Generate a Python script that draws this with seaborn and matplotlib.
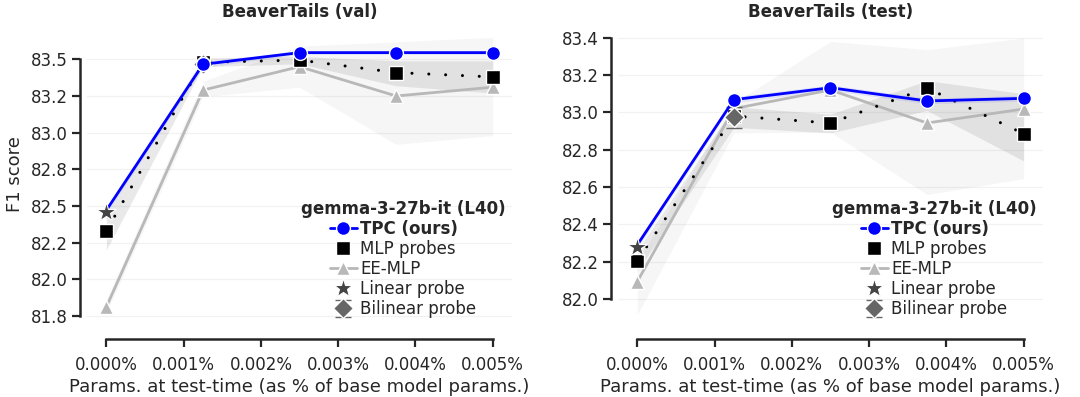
# --- 1. Bibliotecas ---
import pandas as pd
import seaborn as sns
import matplotlib.pyplot as plt
from matplotlib.lines import Line2D
from matplotlib.ticker import FormatStrFormatter, FuncFormatter

# --- 2. Dados ---
# eixo x: parâmetros no teste (% dos parâmetros do modelo base)
params_pct = [0.0, 0.00125, 0.0025, 0.00375, 0.005]

# BeaverTails (val)
tpc_val = [82.47, 83.466, 83.546, 83.546, 83.546]
tpc_val_lo = [82.45, 83.445, 83.534, 83.534, 83.534]
tpc_val_hi = [82.49, 83.485, 83.558, 83.558, 83.558]
mlp_val = [82.33, 83.48, 83.495, 83.41, 83.38]
mlp_val_lo = [82.20, 83.45, 83.47, 83.32, 83.27]
mlp_val_hi = [82.45, 83.51, 83.52, 83.49, 83.49]
ee_val = [81.81, 83.29, 83.45, 83.25, 83.31]
ee_val_lo = [81.77, 83.245, 83.31, 82.92, 82.98]
ee_val_hi = [81.86, 83.35, 83.59, 83.62, 83.65]
linear_val = 82.46
bilinear_val = 83.47
bilinear_val_err = 0.012

# BeaverTails (test)
tpc_test = [82.29, 83.068, 83.132, 83.061, 83.075]
tpc_test_lo = [82.27, 83.052, 83.117, 83.046, 83.060]
tpc_test_hi = [82.31, 83.084, 83.147, 83.076, 83.090]
mlp_test = [82.205, 82.98, 82.943, 83.13, 82.886]
mlp_test_lo = [82.15, 82.92, 82.89, 83.01, 82.74]
mlp_test_hi = [82.26, 83.03, 82.99, 83.17, 83.10]
ee_test = [82.093, 83.02, 83.12, 82.943, 83.018]
ee_test_lo = [81.915, 82.89, 82.894, 82.56, 82.645]
ee_test_hi = [82.20, 83.05, 83.38, 83.336, 83.398]
linear_test = 82.28
bilinear_test = 82.973
bilinear_test_err = 0.057

x_ticks = [0.0, 0.001, 0.002, 0.003, 0.004, 0.005]
val_yticks = [81.75, 82.0, 82.25, 82.5, 82.75, 83.0, 83.25, 83.5]
test_yticks = [82.0, 82.2, 82.4, 82.6, 82.8, 83.0, 83.2, 83.4]

# --- 3. Estilo ---
sns.set_theme(style="ticks")
plt.rcParams['font.family'] = ['DejaVu Sans']

BLUE = '#0000ff'
GRAY = '#b8b8b8'
STAR = '#444444'
DIAMOND = '#666666'

fig = plt.figure(figsize=(10.8, 3.97), dpi=100)
ax_val = fig.add_axes([0.0806, 0.1814, 0.3935, 0.758])
ax_test = fig.add_axes([0.5722, 0.1814, 0.3935, 0.758])


def desenha(ax, titulo, tpc, tpc_lo, tpc_hi, mlp, mlp_lo, mlp_hi, ee, ee_lo, ee_hi,
            linear, bilinear, bilinear_err, yticks, ylim, ylabel):
    # faixas de variação
    ax.fill_between(params_pct, ee_lo, ee_hi, color='0.5', alpha=0.07, lw=0, zorder=1)
    ax.fill_between(params_pct, mlp_lo, mlp_hi, color='0.3', alpha=0.12, lw=0, zorder=1)
    ax.fill_between(params_pct, tpc_lo, tpc_hi, color=BLUE, alpha=0.08, lw=0, zorder=1)

    df_ee = pd.DataFrame({'x': params_pct, 'y': ee})
    df_mlp = pd.DataFrame({'x': params_pct, 'y': mlp})
    df_tpc = pd.DataFrame({'x': params_pct, 'y': tpc})

    sns.lineplot(data=df_ee, x='x', y='y', ax=ax, color=GRAY, lw=2, marker='^',
                 markersize=10, markeredgecolor='white', markeredgewidth=1,
                 legend=False, zorder=3)
    sns.lineplot(data=df_mlp, x='x', y='y', ax=ax, color='black', lw=2.2,
                 linestyle=(0, (0.01, 5.5)), dash_capstyle='round', marker='s',
                 markersize=9.5, markeredgecolor='white', markeredgewidth=1,
                 legend=False, zorder=4)
    eb = ax.errorbar([params_pct[1]], [bilinear], yerr=[bilinear_err], fmt='D',
                     color=DIAMOND, ms=10, mec='white', mew=1, capsize=6,
                     elinewidth=1.2, capthick=1.5, zorder=5)
    eb[2][0].set_linestyle('--')
    sns.lineplot(data=df_tpc, x='x', y='y', ax=ax, color=BLUE, lw=2, marker='o',
                 markersize=10, markeredgecolor='white', markeredgewidth=1,
                 markevery=[1, 2, 3, 4], legend=False, zorder=6)
    ax.plot([params_pct[0]], [linear], ls='none', marker='*', color=STAR, ms=15,
            mec='white', mew=0.8, zorder=7)

    # eixos
    ax.set_xlim(-0.00025, 0.00525)
    ax.set_ylim(*ylim)
    ax.set_xticks(x_ticks)
    ax.set_yticks(yticks)
    ax.xaxis.set_major_formatter(FuncFormatter(lambda v, p: f'{v:.3f}%'))
    ax.yaxis.set_major_formatter(FormatStrFormatter('%.1f'))
    ax.yaxis.grid(True, color='0.95', lw=0.9)
    ax.tick_params(labelsize=12, length=6, width=1.6, color='.15', pad=3)
    ax.tick_params(axis='x', pad=6)
    ax.set_title(titulo, fontsize=12, fontweight='bold', pad=5)
    ax.set_xlabel('Params. at test-time (as % of base model params.)', fontsize=13, labelpad=3)
    ax.set_ylabel(ylabel, fontsize=13, labelpad=5)

    sns.despine(ax=ax)
    ax.spines['left'].set_position(('outward', 5))
    ax.spines['bottom'].set_position(('outward', 10))
    ax.spines['left'].set_linewidth(1.8)
    ax.spines['bottom'].set_linewidth(1.8)
    ax.spines['left'].set_bounds(yticks[0], yticks[-1])
    ax.spines['bottom'].set_bounds(x_ticks[0], x_ticks[-1])

    # legenda (marcadores como no original)
    h_tpc = Line2D([], [], color=BLUE, lw=2, marker='o', ms=10, mec='white', mew=1)
    h_mlp = Line2D([], [], ls='none', color='black', marker='s', ms=9.5, mec='white', mew=1)
    h_ee = Line2D([], [], color=GRAY, lw=2, marker='^', ms=10, mec='white', mew=1)
    h_lin = Line2D([], [], ls='none', color=STAR, marker='*', ms=14, mec='white', mew=0.8)
    leg = ax.legend([h_tpc, h_mlp, h_ee, h_lin, eb],
                    ['TPC (ours)', 'MLP probes', 'EE-MLP', 'Linear probe', 'Bilinear probe'],
                    title='gemma-3-27b-it (L40)', loc='lower right',
                    bbox_to_anchor=(1.0, 0.0), frameon=False, fontsize=12,
                    title_fontproperties={'weight': 'bold', 'size': 12},
                    handlelength=1.6, handletextpad=0.2, labelspacing=0.12,
                    borderaxespad=0.2, borderpad=0.2)
    leg.get_texts()[0].set_fontweight('bold')
    leg._legend_box.align = 'center'


desenha(ax_val, 'BeaverTails (val)', tpc_val, tpc_val_lo, tpc_val_hi,
        mlp_val, mlp_val_lo, mlp_val_hi, ee_val, ee_val_lo, ee_val_hi,
        linear_val, bilinear_val, bilinear_val_err, val_yticks, (81.687, 83.741), 'F1 score')
desenha(ax_test, 'BeaverTails (test)', tpc_test, tpc_test_lo, tpc_test_hi,
        mlp_test, mlp_test_lo, mlp_test_hi, ee_test, ee_test_lo, ee_test_hi,
        linear_test, bilinear_test, bilinear_test_err, test_yticks, (81.861, 83.473), '')

fig.savefig('out.png', dpi=100)
